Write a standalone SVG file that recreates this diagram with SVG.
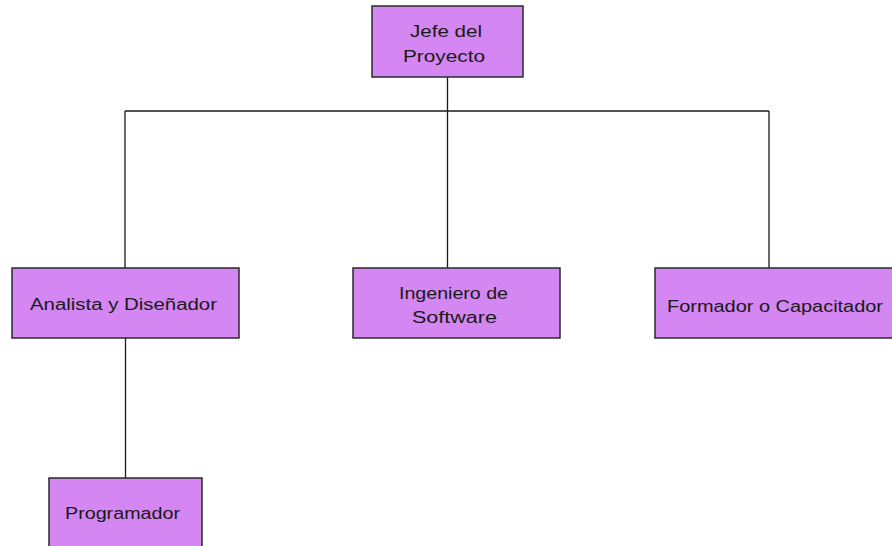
<svg xmlns="http://www.w3.org/2000/svg" width="892" height="546" viewBox="0 0 892 546">
  <style>
    .box { fill: #D486F2; stroke: #2a2a2a; stroke-width: 1.5; }
    .lbl { font-family: "Liberation Sans", Arial, sans-serif; font-size: 16px; fill: #1a1a1a; text-anchor: middle; }
    .link { fill: none; stroke: #1a1a1a; stroke-width: 1.3; }
  </style>
  <rect width="892" height="546" fill="#ffffff"/>

  <!-- hierarchy connectors -->
  <g id="connectors">
    <path class="link" d="M447.5 77 V111"/>
    <path class="link" d="M125 111 H769"/>
    <path class="link" d="M125 111 V268"/>
    <path class="link" d="M447.5 111 V268"/>
    <path class="link" d="M769 111 V268"/>
    <path class="link" d="M125.5 338 V478"/>
  </g>

  <g id="jefe">
    <rect class="box" x="372" y="6" width="151" height="71"/>
    <text class="lbl" x="446" y="37" textLength="72" lengthAdjust="spacingAndGlyphs">Jefe del</text>
    <text class="lbl" x="444" y="62" textLength="82" lengthAdjust="spacingAndGlyphs">Proyecto</text>
  </g>

  <g id="analista">
    <rect class="box" x="12" y="268" width="227" height="70"/>
    <text class="lbl" x="123.5" y="310" textLength="187" lengthAdjust="spacingAndGlyphs">Analista y Diseñador</text>
  </g>

  <g id="ingeniero">
    <rect class="box" x="353" y="268" width="207" height="70"/>
    <text class="lbl" x="453.5" y="299" textLength="109" lengthAdjust="spacingAndGlyphs">Ingeniero de</text>
    <text class="lbl" x="454.5" y="323" textLength="85" lengthAdjust="spacingAndGlyphs">Software</text>
  </g>

  <g id="formador">
    <rect class="box" x="655" y="268" width="250" height="70"/>
    <text class="lbl" x="775" y="312" textLength="216" lengthAdjust="spacingAndGlyphs">Formador o Capacitador</text>
  </g>

  <g id="programador">
    <rect class="box" x="49" y="478" width="153" height="80"/>
    <text class="lbl" x="122.5" y="519" textLength="115" lengthAdjust="spacingAndGlyphs">Programador</text>
  </g>
</svg>
